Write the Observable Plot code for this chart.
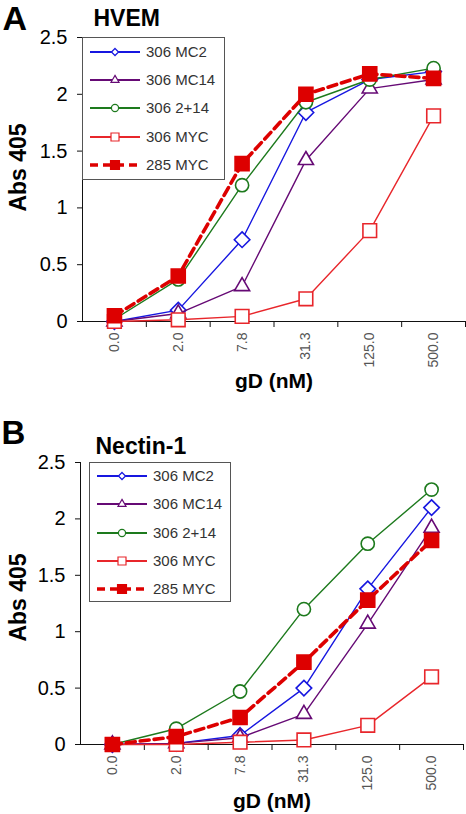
<!DOCTYPE html>
<html>
<head>
<meta charset="utf-8">
<script src="https://cdn.jsdelivr.net/npm/d3@7"></script>
<script src="https://cdn.jsdelivr.net/npm/@observablehq/plot@0.6"></script>
<style>
  html, body { margin: 0; padding: 0; background: #fff; }
  #chart { width: 466px; font-family: "Liberation Sans", Arial, sans-serif; }
  .panel { position: relative; }
  .panel svg { display: block; }
  .legend { position: absolute; }
</style>
</head>
<body>
<div id="chart"></div>
<script>
// ---------- data ----------
const concentrations = ["0.0", "2.0", "7.8", "31.3", "125.0", "500.0"];
const seriesNames = ["306 MC2", "306 MC14", "306 2+14", "306 MYC", "285 MYC"];
const yTicks = [0, 0.5, 1, 1.5, 2, 2.5];

// Panel A: HVEM
const hvemMC2    = [0.00, 0.10, 0.72, 1.84, 2.13, 2.20];
const hvemMC14   = [0.00, 0.07, 0.31, 1.42, 2.05, 2.13];
const hvem2p14   = [0.02, 0.37, 1.20, 1.93, 2.13, 2.23];
const hvem306MYC = [0.00, 0.015, 0.045, 0.20, 0.80, 1.81];
const hvem285MYC = [0.05, 0.40, 1.39, 2.00, 2.18, 2.14];

// Panel B: Nectin-1
const nectinMC2    = [0.00, 0.01, 0.08, 0.50, 1.38, 2.10];
const nectinMC14   = [0.00, 0.01, 0.06, 0.27, 1.07, 1.92];
const nectin2p14   = [0.00, 0.14, 0.47, 1.20, 1.78, 2.26];
const nectin306MYC = [0.00, 0.00, 0.02, 0.04, 0.17, 0.60];
const nectin285MYC = [0.00, 0.07, 0.24, 0.73, 1.28, 1.81];

// ---------- styles ----------
const seriesStyle = {
  "306 MC2":  {color: "#1717e0", symbol: "diamond2",  r: 7.0, lsize: 32, width: 1.4, dash: null,  fill: "white"},
  "306 MC14": {color: "#660a75", symbol: "triangle2", r: 7.2, lsize: 46, width: 1.4, dash: null,  fill: "white"},
  "306 2+14": {color: "#1d7a1d", symbol: "circle",    r: 6.6, lsize: 40, width: 1.4, dash: null,  fill: "white"},
  "306 MYC":  {color: "#e8262b", symbol: "square",    r: 7.7, lsize: 64, width: 1.4, dash: null,  fill: "white"},
  "285 MYC":  {color: "#dd0000", symbol: "square",    r: 7.9, lsize: 80, width: 3.6, dash: "9,5", fill: "#dd0000"}
};
const symbolMap = {diamond2: d3.symbolDiamond2, triangle2: d3.symbolTriangle2, circle: d3.symbolCircle, square: d3.symbolSquare};
const FONT = "'Liberation Sans', Arial, sans-serif";

const xDomain = [-0.5, concentrations.length - 0.5];
const boundaries = concentrations.map((c, i) => i + 0.5);

function buildPanel(cfg) {
  const rows = seriesNames.flatMap((name, s) =>
    cfg.values[s].map((v, i) => ({series: name, i, conc: concentrations[i], v})));
  const marks = [
    Plot.ruleY([0], {stroke: "#111", strokeWidth: 1}),
    Plot.ruleX([xDomain[0]], {stroke: "#111", strokeWidth: 1}),
    Plot.axisY({ticks: yTicks, tickSize: 5, tickPadding: 10, tickFormat: d => String(d), fill: "#000", stroke: "#111", label: null}),
    Plot.axisX({ticks: boundaries, tickSize: 6, tickFormat: () => "", stroke: "#111", label: null}),
    Plot.text(concentrations, {x: (d, i) => i, text: d => d, frameAnchor: "bottom", dy: 11,
      rotate: -90, textAnchor: "end", lineAnchor: "middle", fontSize: 14, fill: "#555"})
  ];
  for (const name of seriesNames) {
    const st = seriesStyle[name];
    const data = rows.filter(d => d.series === name);
    marks.push(Plot.line(data, {x: "i", y: "v", stroke: st.color, strokeWidth: st.width,
      strokeDasharray: st.dash, strokeLinejoin: "round"}));
    marks.push(Plot.dot(data, {x: "i", y: "v", symbol: st.symbol, r: st.r, stroke: st.color,
      fill: st.fill, strokeWidth: 1.6}));
  }
  // titles and axis labels
  marks.push(
    Plot.text([cfg.letter], {frameAnchor: "top-left", dx: cfg.letterDx, dy: cfg.letterDy, fontSize: cfg.letterSize,
      fontWeight: "bold", textAnchor: "start", lineAnchor: "bottom", fill: "#000"}),
    Plot.text([cfg.title], {frameAnchor: "top-left", dx: cfg.titleDx, dy: cfg.titleDy, fontSize: 23,
      fontWeight: "bold", textAnchor: "start", lineAnchor: "bottom", fill: "#000"}),
    Plot.text(["Abs 405"], {frameAnchor: "left", dx: cfg.ylabDx, dy: cfg.ylabDy, rotate: -90, fontSize: 23,
      fontWeight: "bold", textAnchor: "middle", lineAnchor: "bottom", fill: "#000"}),
    Plot.text(["gD (nM)"], {frameAnchor: "bottom", dy: cfg.xlabDy, fontSize: 21,
      fontWeight: "bold", textAnchor: "middle", lineAnchor: "bottom", fill: "#000"})
  );
  const svg = Plot.plot({
    width: 466,
    height: cfg.height,
    marginLeft: cfg.marginLeft,
    marginRight: cfg.marginRight,
    marginTop: cfg.marginTop,
    marginBottom: cfg.marginBottom,
    style: {fontFamily: FONT, fontSize: "20px", background: "white", color: "#000", overflow: "visible"},
    x: {type: "linear", domain: xDomain, label: null},
    y: {domain: [yTicks[0], yTicks[yTicks.length - 1]], label: null},
    marks
  });
  const wrap = document.createElement("div");
  wrap.className = "panel";
  wrap.appendChild(svg);

  // legend box
  const lg = d3.create("svg")
    .attr("class", "legend")
    .attr("width", cfg.legend.w).attr("height", cfg.legend.h)
    .style("left", cfg.legend.left + "px").style("top", cfg.legend.top + "px");
  lg.append("rect").attr("x", 0.5).attr("y", 0.5)
    .attr("width", cfg.legend.w - 1).attr("height", cfg.legend.h - 1)
    .attr("fill", "white").attr("stroke", "#555").attr("stroke-width", 1);
  seriesNames.forEach((name, k) => {
    const st = seriesStyle[name];
    const yy = cfg.legend.rows[k];
    const g = lg.append("g").attr("transform", `translate(0,${yy})`);
    g.append("line").attr("x1", 8).attr("x2", 58).attr("y1", 0).attr("y2", 0)
      .attr("stroke", st.color).attr("stroke-width", st.width === 1.4 ? 1.8 : 3.6)
      .attr("stroke-dasharray", st.dash ? "8,5" : null);
    g.append("path").attr("transform", "translate(33,0)")
      .attr("d", d3.symbol(symbolMap[st.symbol], st.lsize)())
      .attr("fill", st.fill).attr("stroke", st.color).attr("stroke-width", 1.2);
    g.append("text").attr("x", 64).attr("y", 0).attr("dy", "0.35em")
      .attr("font-family", FONT).attr("font-size", 15).attr("fill", "#333").text(name);
  });
  wrap.appendChild(lg.node());
  return wrap;
}

const chart = document.getElementById("chart");
chart.appendChild(buildPanel({
  values: [hvemMC2, hvemMC14, hvem2p14, hvem306MYC, hvem285MYC],
  letter: "A", title: "HVEM",
  height: 400, marginLeft: 82, marginRight: 1, marginTop: 37, marginBottom: 79,
  letterDx: -80, letterDy: -8, letterSize: 34,
  titleDx: 11, titleDy: -12,
  ylabDx: -57, ylabDy: -12,
  xlabDy: 66,
  legend: {left: 82, top: 37, w: 143, h: 143, rows: [15, 43, 71, 100, 128]}
}));
chart.appendChild(buildPanel({
  values: [nectinMC2, nectinMC14, nectin2p14, nectin306MYC, nectin285MYC],
  letter: "B", title: "Nectin-1",
  height: 414, marginLeft: 80, marginRight: 3, marginTop: 62, marginBottom: 70,
  letterDx: -79, letterDy: -19, letterSize: 33,
  titleDx: 15, titleDy: -9,
  ylabDx: -55, ylabDy: -6,
  xlabDy: 63,
  legend: {left: 89, top: 62, w: 142, h: 140, rows: [14, 42, 71, 99, 127]}
}));
</script>
</body>
</html>
